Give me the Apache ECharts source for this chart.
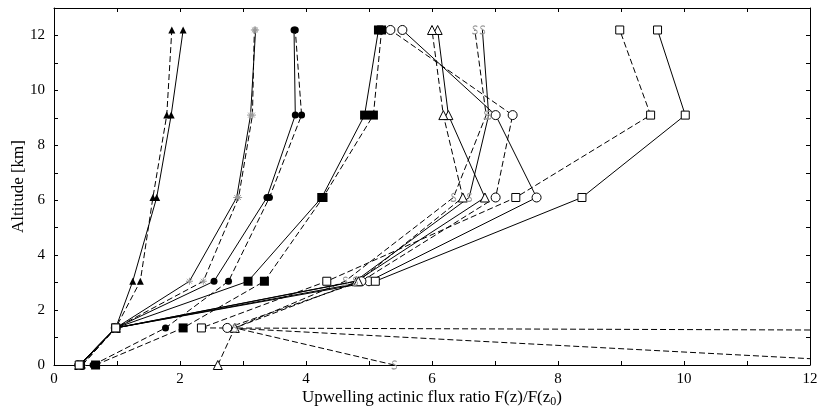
<!DOCTYPE html>
<html><head><meta charset="utf-8">
<script src="https://cdn.jsdelivr.net/npm/echarts@6/dist/echarts.min.js"></script>
<style>html,body{margin:0;padding:0;background:#fff}#c{width:817px;height:413px}</style>
</head><body><div id="c"></div>
<script>
// Altitude levels (km)
const altitudes = [0, 1.35, 3.05, 6.1, 9.1, 12.2];
// Flux ratio values per series, ordered by altitude
const triFilledSolid = [0.40, 0.98, 1.25, 1.63, 1.86, 2.05];
const triFilledDash  = [0.45, 0.98, 1.37, 1.57, 1.79, 1.87];
const starSolid      = [0.40, 0.98, 2.15, 2.90, 3.12, 3.20];
const starDash       = [0.45, 0.98, 2.37, 2.93, 3.15, 3.18];
const circFilledSolid= [0.42, 0.98, 2.54, 3.38, 3.83, 3.81];
const circFilledDash = [0.62, 1.77, 2.77, 3.42, 3.93, 3.83];
const sqFilledSolid  = [0.42, 0.98, 3.08, 4.25, 4.93, 5.15];
const sqFilledDash   = [0.66, 2.05, 3.34, 4.27, 5.07, 5.20];
const circOpenSolid  = [0.40, 0.98, 5.00, 7.66, 7.01, 5.53];
const circOpenDash   = [13.9, 2.75, 4.88, 7.01, 7.28, 5.34];
const triOpenSolid   = [0.40, 0.98, 4.80, 6.84, 6.26, 6.09];
const triOpenDash    = [2.60, 2.87, 4.83, 6.49, 6.18, 6.00];
const sSolid         = [0.40, 0.98, 4.78, 6.59, 6.90, 6.80];
const sDash          = [5.40, 2.87, 4.62, 6.34, 6.86, 6.68];
const sqOpenSolid    = [0.40, 0.98, 5.10, 8.38, 10.02, 9.58];
const sqOpenDash     = [175, 2.34, 4.33, 7.33, 9.47, 8.98];
const xTickLabels = ['0','2','4','6','8','10','12'];
const yTickLabels = ['0','2','4','6','8','10','12'];

const STAR = 'path://M0,5L10,5M5,0L5,10M1.5,1.5L8.5,8.5M8.5,1.5L1.5,8.5';
const SSYM = 'path://M7,1C5,-0.5 1.5,0.5 2.5,3C3.5,5 7.5,5 7,8C6.5,10.5 3,10.5 1.5,9';
const marks = {
  triF: {symbol:'triangle', symbolSize:7, itemStyle:{color:'#000'}},
  star: {symbol:STAR, symbolSize:7, itemStyle:{color:'none', borderColor:'#999', borderWidth:1}},
  circF:{symbol:'circle', symbolSize:7, itemStyle:{color:'#000'}},
  sqF:  {symbol:'rect', symbolSize:9, itemStyle:{color:'#000'}},
  circO:{symbol:'circle', symbolSize:9, itemStyle:{color:'#fff', borderColor:'#000', borderWidth:1}},
  triO: {symbol:'triangle', symbolSize:9, itemStyle:{color:'#fff', borderColor:'#000', borderWidth:1}},
  sS:   {symbol:SSYM, symbolSize:[5,8], itemStyle:{color:'none', borderColor:'#999', borderWidth:1}},
  sqO:  {symbol:'rect', symbolSize:8, itemStyle:{color:'#fff', borderColor:'#000', borderWidth:1}}
};
function mk(vals, m, dashed){
  return Object.assign({
    type:'line', xAxisIndex:0, yAxisIndex:0,
    data: vals.map((v,i)=>[v, altitudes[i]]),
    lineStyle:{color:'#000', width:1, type: dashed ? [6,3] : 'solid'},
    showAllSymbol:true, clip:true, silent:true
  }, JSON.parse(JSON.stringify(m)));
}
const series = [
  mk(triFilledSolid, marks.triF, false), mk(triFilledDash, marks.triF, true),
  mk(starSolid, marks.star, false), mk(starDash, marks.star, true),
  mk(circFilledSolid, marks.circF, false), mk(circFilledDash, marks.circF, true),
  mk(sqFilledSolid, marks.sqF, false), mk(sqFilledDash, marks.sqF, true),
  mk(circOpenSolid, marks.circO, false), mk(circOpenDash, marks.circO, true),
  mk(triOpenSolid, marks.triO, false), mk(triOpenDash, marks.triO, true),
  mk(sSolid, marks.sS, false), mk(sDash, marks.sS, true),
  mk(sqOpenSolid, marks.sqO, false), mk(sqOpenDash, marks.sqO, true)
];
const font = 'Liberation Serif';
const axisCommon = {
  type:'value', splitLine:{show:false},
  axisLine:{show:true, onZero:false, lineStyle:{color:'#000', width:1}},
  axisTick:{show:true, inside:true, length:4, lineStyle:{color:'#000'}}
};
const chart = echarts.init(document.getElementById('c'), null, {renderer:'canvas'});
chart.setOption({
  animation:false,
  backgroundColor:'#fff',
  grid:{left:54, right:7, top:8, bottom:48, containLabel:false, outerBoundsMode:'none'},
  xAxis:[
    Object.assign({}, axisCommon, {position:'bottom', min:0, max:12, interval:1,
      axisLabel:{fontFamily:font, fontSize:15, color:'#000', margin:7,
        formatter:v=> (v%2===0 ? xTickLabels[v/2] : '')},
      name:'{a|Upwelling actinic flux ratio F(z)/F(z}{b|0}{a|)}',
      nameLocation:'middle', nameGap:23, nameMoveOverlap:false,
      nameTextStyle:{rich:{a:{fontFamily:font, fontSize:17, color:'#000'}, b:{fontFamily:font, fontSize:12, color:'#000', verticalAlign:'bottom', padding:[8,0,0,0]}}}}),
    Object.assign({}, axisCommon, {position:'top', min:0, max:12, interval:1, axisLabel:{show:false}})
  ],
  yAxis:[
    Object.assign({}, axisCommon, {position:'left', min:0, max:13, interval:1,
      axisLabel:{fontFamily:font, fontSize:15, color:'#000', margin:9,
        formatter:v=> (v%2===0 && v<=12 ? yTickLabels[v/2] : '')},
      name:'Altitude [km]', nameLocation:'middle', nameGap:27, nameMoveOverlap:false,
      nameTextStyle:{fontFamily:font, fontSize:17, color:'#000'}}),
    Object.assign({}, axisCommon, {position:'right', min:0, max:13, interval:1, axisLabel:{show:false}})
  ],
  series: series
});
</script></body></html>
